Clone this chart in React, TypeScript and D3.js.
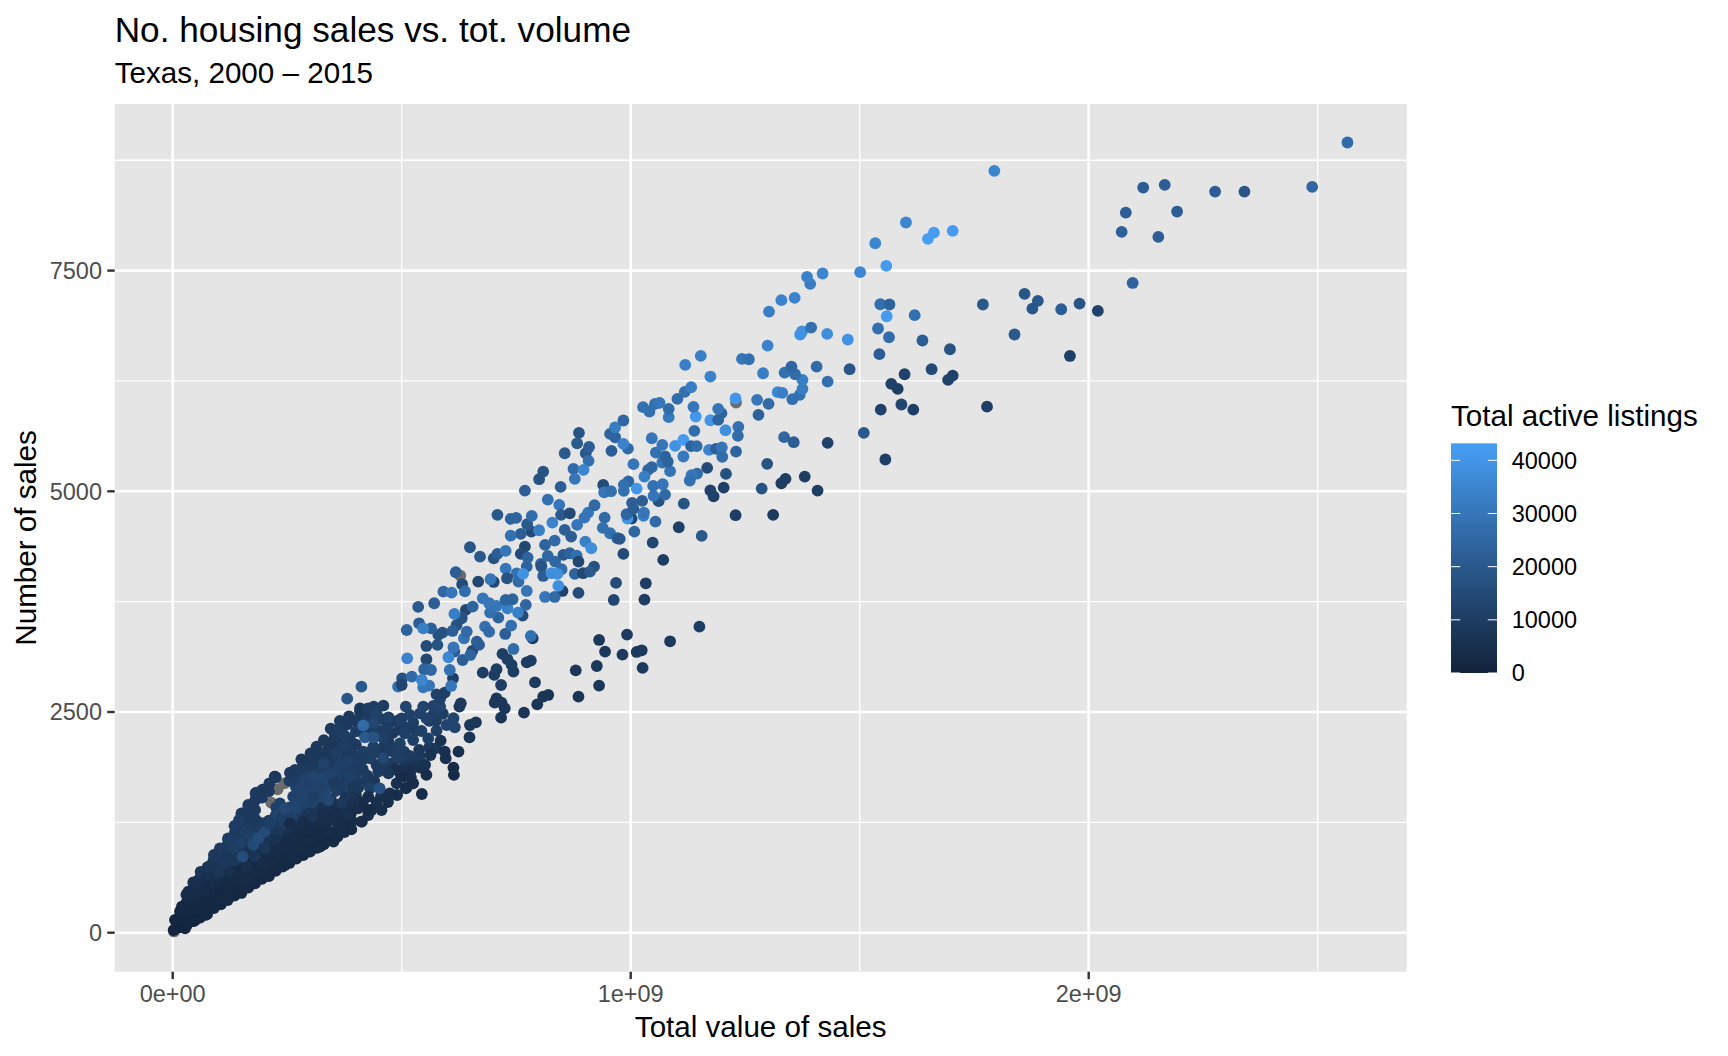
import React from "react";
import * as d3 from "d3";

// [total value of sales in $M, number of sales, total active listings]
type Row = [number, number, number];

// rows with no listings count, they come out grey
const missingListings: number[][] = [
  [3, 14], [215, 1474], [229, 1625], [244, 1692], [352, 1590], [628, 4045], [1230, 6006],
];

// the solid part of the cloud, smaller metro areas
const solidLowerLobe: Row[] = [
  [15, 60, 1000], [14, 150, 1500], [16, 240, 2000], [30, 80, 1000], [31, 170, 1500], [29, 260, 2000], [30, 340, 3000], [31, 430, 4000],
  [45, 130, 1500], [46, 220, 2000], [44, 310, 2500], [45, 400, 3000], [60, 170, 1500], [61, 260, 2000], [59, 350, 2500], [60, 440, 3000],
  [75, 210, 2000], [76, 300, 2000], [74, 390, 2500], [75, 480, 3000], [90, 280, 2000], [91, 370, 2500], [89, 460, 2500], [90, 550, 3000],
  [105, 320, 2000], [106, 410, 2500], [104, 500, 2500], [105, 590, 3000], [120, 370, 2500], [121, 460, 2500], [119, 550, 2500], [120, 640, 3000],
  [135, 420, 2500], [136, 510, 2500], [134, 600, 2500], [135, 690, 3000], [150, 450, 2500], [151, 540, 2500], [149, 630, 2500], [150, 720, 3000],
  [165, 510, 2500], [166, 600, 2500], [164, 690, 3000], [165, 780, 3000], [180, 560, 2500], [181, 650, 2500], [179, 740, 3000], [180, 830, 3000],
  [195, 610, 2500], [196, 700, 2500], [194, 790, 3000], [195, 880, 3000], [210, 640, 2500], [211, 730, 2500], [209, 820, 3000], [210, 910, 3500],
  [225, 700, 2500], [226, 790, 2500], [224, 880, 3000], [225, 970, 3500], [240, 750, 2500], [241, 840, 3000], [239, 930, 3000], [240, 1020, 3500],
  [255, 790, 2500], [256, 880, 3000], [254, 970, 3000], [255, 1060, 3500], [270, 840, 2500], [271, 930, 3000], [269, 1020, 3000], [270, 1110, 3500],
  [285, 880, 2500], [286, 970, 3000], [284, 1060, 3000], [285, 1150, 3500], [300, 920, 2500], [301, 1010, 3000], [299, 1100, 3000], [300, 1190, 3500],
  [315, 960, 2500], [316, 1050, 3000], [314, 1140, 3000], [315, 1230, 3500], [330, 1000, 2500], [331, 1090, 3000], [329, 1180, 3000], [330, 1270, 3500],
  [345, 1050, 3000], [346, 1140, 3000], [360, 1090, 3000], [361, 1180, 3000], [359, 1270, 3500], [375, 1140, 3000], [376, 1230, 3000], [374, 1320, 3500],
  [390, 1170, 3000], [391, 1260, 3000], [389, 1350, 3500], [345, 1330, 4000], [346, 1420, 5000], [360, 1360, 4000], [375, 1410, 5000], [390, 1440, 5000],
];

const solidUpperLobe: Row[] = [
  [30, 430, 4000], [45, 490, 4000], [45, 570, 5000], [60, 530, 4000], [60, 620, 6000], [61, 690, 7000], [75, 570, 4000], [75, 660, 6000],
  [76, 740, 7000], [90, 640, 5000], [91, 730, 7000], [89, 820, 8000], [90, 880, 9000], [105, 680, 5000], [106, 770, 7000], [104, 860, 8000],
  [105, 930, 9000], [120, 730, 5000], [121, 820, 7000], [119, 910, 8000], [120, 1000, 9000], [121, 1060, 9000], [135, 780, 5000], [136, 870, 7000],
  [134, 960, 8000], [135, 1050, 9000], [136, 1140, 9000], [135, 1210, 10000], [150, 810, 5000], [151, 900, 7000], [149, 990, 9000], [150, 1080, 9000],
  [151, 1170, 9000], [149, 1260, 9000], [150, 1350, 9000], [165, 870, 5000], [166, 960, 7000], [164, 1050, 9000], [165, 1140, 9000], [166, 1230, 9000],
  [164, 1320, 9000], [165, 1410, 9000], [180, 920, 5000], [181, 1010, 7000], [179, 1100, 9000], [180, 1190, 9000], [181, 1280, 9000], [180, 1500, 9000],
  [181, 1580, 9000], [195, 970, 5000], [196, 1060, 7000], [194, 1150, 9000], [195, 1240, 9000], [195, 1530, 9000], [196, 1620, 9000], [210, 1000, 5000],
  [211, 1090, 7000], [209, 1180, 8000], [210, 1270, 9000], [210, 1600, 9000], [211, 1690, 9000], [225, 1060, 6000], [226, 1150, 8000], [224, 1240, 9000],
  [225, 1330, 11000], [226, 1420, 11000], [225, 1760, 9000], [240, 1110, 6000], [241, 1200, 8000], [239, 1290, 10000], [240, 1380, 12000], [255, 1150, 6000],
  [256, 1240, 8000], [254, 1330, 10000], [255, 1420, 11000], [255, 1720, 10000], [270, 1200, 5000], [271, 1290, 8000], [269, 1380, 11000], [270, 1470, 12000],
  [271, 1560, 13000], [269, 1650, 12000], [270, 1740, 10000], [271, 1830, 9000], [285, 1240, 5000], [286, 1330, 7000], [284, 1420, 11000], [285, 1510, 13000],
  [286, 1600, 13000], [284, 1690, 11000], [285, 1780, 10000], [285, 1870, 9000], [300, 1280, 5000], [301, 1370, 7000], [299, 1460, 10000], [300, 1550, 12000],
  [301, 1640, 12000], [299, 1730, 11000], [300, 1820, 10000], [300, 1900, 8000], [315, 1320, 5000], [316, 1410, 7000], [314, 1500, 9000], [315, 1590, 13000],
  [316, 1680, 13000], [314, 1770, 12000], [315, 1860, 10000], [315, 1950, 8000], [330, 1360, 5000], [331, 1450, 7000], [329, 1540, 9000], [330, 1670, 13000],
  [331, 1760, 12000], [329, 1850, 10000], [330, 1940, 8000], [330, 2030, 8000], [345, 1510, 7000], [346, 1690, 11000], [344, 1780, 12000], [345, 1870, 10000],
  [345, 1960, 9000], [345, 2050, 8000], [360, 1450, 5000], [361, 1640, 9000], [359, 1730, 11000], [360, 1820, 11000], [361, 1910, 10000], [360, 2000, 9000],
  [360, 2090, 9000], [360, 2180, 9000], [375, 1500, 6000], [376, 1590, 7000], [374, 1680, 9000], [375, 1770, 11000], [376, 1860, 10000], [375, 1950, 9000],
  [375, 2040, 9000], [374, 2130, 9000], [375, 2220, 9000], [390, 1530, 6000], [391, 1620, 7000], [389, 1710, 9000], [390, 1800, 10000], [391, 1890, 9000],
  [390, 1980, 9000], [389, 2070, 9000], [390, 2160, 9000],
];

const shoulder: Row[] = [
  [400, 1560, 5000], [415, 1480, 4000], [405, 1640, 9000], [420, 1720, 9000], [400, 1800, 10000], [415, 1850, 9000], [425, 1780, 9000], [440, 1720, 8000],
  [445, 1900, 9000], [400, 2000, 9000], [415, 1960, 9000], [430, 2040, 9000], [445, 2040, 10000], [460, 2100, 9000], [475, 2060, 9000], [490, 2100, 10000],
  [505, 2050, 10000], [400, 2130, 9000], [385, 2200, 9000], [400, 2280, 10000], [415, 2270, 11000], [430, 2300, 10000], [450, 2290, 10000], [480, 2260, 9000],
  [495, 2300, 9000], [510, 2320, 10000], [525, 2380, 10000], [490, 2400, 10000], [475, 2380, 9000], [455, 2420, 10000], [435, 2450, 9000], [420, 2430, 10000],
  [400, 2400, 9000], [385, 2450, 9000], [365, 2400, 9000], [345, 2310, 9000], [330, 2180, 9000], [345, 2150, 8000], [320, 2000, 8000], [300, 1960, 8000],
  [285, 1900, 9000], [340, 1960, 9000], [360, 1960, 9000], [380, 2010, 9000], [400, 1920, 9000], [465, 1900, 9000], [480, 1920, 9000], [510, 1900, 7000],
  [520, 1840, 5000], [520, 1760, 5000], [540, 1870, 6000], [530, 1950, 7000], [540, 2000, 9000], [560, 2100, 9000], [575, 2090, 8000], [530, 2290, 10000],
  [560, 2400, 10000], [575, 2400, 10000], [590, 2480, 11000], [570, 2480, 11000], [500, 1850, 6000], [455, 1550, 5000], [490, 1560, 4000], [445, 1480, 5000],
  [470, 1480, 4000],
];

const denseBandLower: Row[] = [
  [2, 30, 1000], [27, 50, 1000], [49, 144, 1500], [71, 201, 2000], [100, 371, 2500], [121, 446, 2500],
  [147, 484, 2500], [176, 578, 2500], [201, 673, 2500], [245, 767, 2500], [267, 862, 3000], [296, 918, 3000],
  [322, 975, 3000], [351, 1032, 3000], [413, 1258, 3000], [456, 1390, 4000], [434, 1390, 4000], [427, 1333, 5000],
  [412, 1258, 4000], [387, 1352, 4000], [358, 1352, 4000], [329, 1352, 5000], [300, 1352, 7000], [285, 1258, 4000],
  [256, 1239, 4000], [340, 1258, 4000], [158, 597, 3000], [180, 692, 3000], [201, 786, 3500], [223, 881, 3500],
  [242, 956, 3500], [263, 1032, 3500], [282, 1107, 3000], [303, 1183, 3500], [325, 1258, 4000], [216, 824, 3000],
  [253, 881, 3000], [274, 956, 3000], [296, 1032, 3000], [318, 1107, 3000], [340, 1145, 3500], [362, 1239, 4000],
  [383, 1334, 5000], [405, 1409, 4000], [427, 1390, 3000], [369, 1164, 3500], [38, 257, 2000], [56, 333, 2000],
  [74, 333, 2000], [92, 446, 2500], [114, 559, 3000], [121, 522, 2500], [143, 635, 3000],
];

const denseBandUpper: Row[] = [
  [5, 144, 1500], [20, 295, 2000], [34, 465, 4000], [52, 578, 5000], [78, 748, 7000], [103, 956, 9000],
  [121, 1069, 10000], [145, 1277, 10000], [165, 1447, 9000], [183, 1587, 9000], [223, 1768, 9000], [27, 257, 2500],
  [41, 371, 3000], [56, 446, 3500], [78, 465, 3500], [92, 559, 4000], [100, 673, 7000], [114, 786, 8000],
  [125, 673, 5000], [136, 824, 8000], [132, 956, 10000], [147, 1013, 11000], [158, 1145, 10000], [172, 1277, 9000],
  [180, 1390, 9000], [172, 1088, 11000], [161, 748, 5000], [180, 862, 7000], [201, 956, 7000], [223, 1051, 6000],
  [231, 1164, 8000], [245, 1239, 10000], [263, 1334, 12000], [267, 1447, 13000], [285, 1504, 13000], [303, 1466, 12000],
  [318, 1542, 13000], [333, 1617, 13000], [311, 1693, 12000], [354, 1730, 11000], [376, 1730, 9000], [282, 1353, 9000],
  [303, 1315, 8000], [329, 1390, 6000], [362, 1428, 5000], [391, 1504, 9000], [153, 862, 16000], [176, 994, 15000],
  [187, 1069, 16000], [201, 1145, 15000], [212, 1239, 15000], [231, 1334, 14000], [242, 1390, 15000], [274, 1579, 13000],
  [303, 1617, 13000], [333, 1730, 12000], [223, 1767, 8000], [234, 1465, 11000], [238, 1314, 11000], [212, 1239, 11000],
  [245, 1409, 14000], [271, 1409, 13000], [285, 1465, 12000], [267, 1843, 9000], [256, 1813, 9000], [292, 1749, 12000],
  [307, 1767, 13000], [329, 1749, 13000], [358, 1786, 11000], [387, 1767, 11000], [278, 1616, 12000], [263, 1541, 12000],
  [307, 1541, 10000], [340, 1503, 14000], [369, 1465, 8000], [394, 1484, 6000], [322, 1654, 12000], [351, 1711, 9000],
  [380, 1654, 10000], [409, 1692, 9000], [431, 1635, 11000], [452, 1635, 17000], [427, 1541, 4000], [474, 1579, 4000],
  [509, 1635, 4000], [489, 1692, 5000], [498, 1786, 5000], [485, 1850, 5000], [471, 1805, 8000], [449, 1824, 9000],
  [343, 1805, 12000], [394, 1654, 8000], [358, 1616, 10000], [307, 1654, 12000], [285, 1692, 12000],
];

const midBandLeft: Row[] = [
  [281, 1964, 8000], [301, 2032, 8000], [314, 2107, 8000], [338, 2070, 8000], [303, 1900, 9000], [329, 1918, 12000],
  [365, 1900, 11000], [383, 1937, 11000], [358, 2032, 10000], [376, 2107, 10000], [409, 1900, 10000], [431, 1975, 10000],
  [460, 1975, 14000], [487, 2032, 10000], [492, 1975, 10000], [438, 2107, 10000], [416, 2051, 10000], [471, 2164, 9000],
  [496, 2145, 11000], [354, 2289, 9000], [354, 2228, 9000], [365, 2315, 10000], [374, 2240, 10000], [381, 2360, 9000],
  [409, 2504, 8000], [409, 2542, 8000], [427, 2542, 10000], [439, 2561, 10000], [460, 2572, 10000], [445, 2485, 12000],
  [471, 2440, 11000], [438, 2372, 13000], [467, 2315, 10000], [460, 2202, 11000], [420, 2213, 20000], [439, 2213, 18000],
  [416, 2349, 26000], [500, 2428, 11000], [381, 2651, 19000], [412, 2787, 20000], [492, 2787, 28000], [501, 2882, 18000],
  [500, 2806, 13000], [503, 1768, 4000], [511, 1647, 4000], [525, 1692, 4000], [544, 1571, 4000],
  [554, 1787, 4000], [551, 1900, 6000], [613, 1870, 3000], [614, 1787, 3000], [517, 2002, 9000], [496, 1975, 10000],
  [538, 2070, 8000], [563, 2013, 6000], [594, 2051, 5000], [596, 1975, 5000], [624, 2051, 5000], [585, 2176, 6000],
  [525, 2183, 11000], [558, 2202, 11000], [507, 2259, 11000], [543, 2285, 11000], [576, 2289, 11000], [648, 2213, 7000],
  [649, 2353, 8000], [662, 2383, 8000], [598, 2353, 13000], [616, 2327, 13000], [613, 2429, 13000], [554, 2429, 12000],
  [540, 2485, 12000], [518, 2467, 12000], [509, 2561, 13000], [547, 2561, 13000], [569, 2568, 12000], [584, 2561, 13000],
  [584, 2655, 12000], [576, 2700, 12000], [594, 2719, 11000], [629, 2598, 9000], [626, 2561, 9000], [707, 2655, 8000],
  [703, 2606, 8000], [718, 2606, 8000], [725, 2542, 8000], [717, 2436, 7000], [767, 2493, 7000], [796, 2587, 7000],
  [809, 2674, 7000], [820, 2693, 7000], [886, 2674, 7000], [931, 2799, 8000], [880, 2972, 8000], [926, 3021, 8000],
  [944, 3184, 8000], [931, 3316, 8000], [982, 3150, 9000], [992, 3377, 9000], [1013, 3180, 9000], [1024, 3199, 9000],
  [1026, 2999, 9000], [1086, 3301, 9000], [1150, 3467, 10000], [1030, 3773, 10000], [1033, 3958, 10000], [963, 3769, 14000],
  [968, 3962, 15000], [791, 2836, 9000], [717, 2806, 10000], [677, 2946, 10000], [707, 2984, 10000], [702, 2920, 10000],
  [612, 2882, 11000], [744, 2957, 10000], [740, 3033, 10000], [731, 3097, 11000], [720, 3158, 11000],
  [773, 3063, 10000], [782, 3082, 10000], [786, 3335, 10000], [654, 3191, 14000], [554, 3248, 15000], [554, 3097, 14000],
  [764, 3592, 15000], [640, 3656, 14000], [631, 3562, 18000], [620, 3486, 18000], [615, 3184, 22000], [633, 3089, 22000],
  [578, 3260, 18000], [580, 3373, 18000], [589, 3399, 18000], [611, 3418, 22000], [726, 3384, 22000], [711, 3569, 24000],
  [549, 2984, 24000], [564, 2976, 25000], [522, 2901, 26000], [605, 2976, 28000], [547, 2780, 30000], [560, 2799, 30000],
  [608, 2795, 30000], [544, 2863, 35000], [512, 3108, 34000], [602, 3120, 36000], [613, 3233, 30000], [650, 3146, 24000],
  [664, 3297, 22000], [669, 3260, 22000], [636, 3335, 29000], [642, 3411, 26000], [682, 3467, 28000], [691, 3407, 26000],
  [739, 3478, 28000], [782, 3361, 28000], [744, 3214, 27000], [511, 3429, 24000], [538, 3505, 22000], [564, 3448, 22000],
  [547, 3448, 33000], [536, 3690, 20000], [571, 3732, 22000], [655, 3694, 24000], [615, 3611, 33000], [693, 3626, 28000],
  [691, 3732, 30000], [677, 3788, 30000], [707, 3701, 30000], [731, 3675, 33000], [742, 3777, 24000], [727, 3769, 24000],
  [771, 3713, 25000], [754, 3626, 33000],
];

const midBandUpper: Row[] = [
  [618, 4083, 22000], [632, 3947, 15000], [667, 3977, 14000], [701, 3973, 14000], [694, 4004, 30000], [591, 3864, 25000],
  [609, 3852, 30000], [638, 3868, 27000], [649, 4366, 19000], [671, 4260, 20000], [701, 4241, 18000], [709, 4291, 22000],
  [727, 4325, 30000], [709, 4733, 20000], [738, 4687, 24000], [750, 4699, 24000], [769, 5008, 22000], [800, 5137, 18000],
  [809, 5223, 18000], [769, 4374, 14000], [760, 4291, 15000], [775, 4249, 24000], [727, 4124, 30000], [773, 4147, 24000],
  [751, 4071, 28000], [730, 4015, 18000], [755, 3977, 26000], [773, 3871, 30000], [765, 4064, 39000], [804, 4177, 24000],
  [805, 4147, 18000], [809, 4041, 22000], [819, 4268, 25000], [835, 4204, 25000], [853, 4279, 20000], [867, 4298, 24000],
  [882, 4272, 28000], [886, 4204, 14000], [849, 4117, 27000], [878, 4064, 24000], [896, 4072, 14000], [920, 4147, 18000],
  [911, 4090, 20000], [851, 3871, 12000], [886, 3849, 15000], [813, 3803, 30000], [834, 3803, 26000], [842, 3928, 38000],
  [827, 4072, 38000], [840, 4064, 38000], [834, 4442, 26000], [813, 4393, 24000], [901, 4430, 33000], [914, 4355, 38000],
  [783, 4544, 15000], [760, 4517, 22000], [738, 4498, 28000], [800, 4559, 33000], [829, 4646, 34000], [774, 4627, 20000],
  [784, 4721, 27000], [819, 4906, 28000], [844, 4846, 30000], [847, 5050, 22000], [848, 4733, 20000], [867, 4751, 15000],
  [870, 4487, 22000], [856, 4563, 22000], [883, 4619, 30000], [899, 4702, 30000], [907, 4759, 30000], [921, 4842, 26000],
  [943, 4702, 26000], [939, 4585, 28000], [955, 4525, 28000], [971, 4468, 22000], [940, 5072, 15000], [942, 4989, 30000],
  [957, 5001, 28000], [856, 5431, 20000], [902, 5431, 20000], [908, 5344, 28000], [875, 5254, 26000], [897, 5242, 35000],
  [878, 5140, 30000], [958, 5458, 22000], [976, 4461, 20000], [984, 4291, 15000], [1008, 4544, 25000], [1048, 4419, 14000],
  [1071, 4223, 10000], [1105, 4593, 11000], [1155, 4495, 20000], [1229, 4729, 10000], [1311, 4733, 9000], [1054, 4657, 26000],
  [1002, 4691, 14000], [993, 4691, 40000], [1028, 4722, 33000], [1029, 4759, 30000], [991, 4740, 25000], [1006, 4801, 22000],
  [1003, 4869, 22000], [1025, 4891, 22000], [1116, 4861, 18000], [1061, 4888, 18000], [1050, 4948, 30000], [1075, 4963, 26000],
  [1049, 5061, 28000], [1070, 5080, 30000], [995, 5111, 25000], [985, 5073, 28000], [985, 5005, 28000], [1013, 5031, 40000],
  [887, 5661, 18000], [883, 5544, 20000], [909, 5502, 22000], [955, 5650, 24000], [966, 5612, 24000], [966, 5725, 32000],
];

const upperBand: Row[] = [
  [984, 5802, 25000], [994, 5484, 26000], [984, 5537, 34000], [1006, 5307, 30000], [1046, 5273, 25000], [1038, 5243, 25000],
  [1030, 5167, 33000], [1086, 5228, 29000], [1069, 5326, 30000], [1081, 5337, 24000], [1075, 5394, 24000], [1055, 5439, 28000],
  [1069, 5526, 30000], [1046, 5601, 30000], [1097, 5515, 39000], [1115, 5583, 42000], [1115, 5394, 31000], [1132, 5511, 23000],
  [1144, 5511, 27000], [1139, 5685, 27000], [1171, 5469, 34000], [1186, 5481, 23000], [1199, 5496, 30000], [1200, 5390, 27000],
  [1230, 5450, 24000], [1235, 5730, 28000], [1234, 5628, 27000], [1207, 5692, 38000], [1174, 5805, 40000], [1191, 5809, 24000],
  [1198, 5885, 24000], [1191, 5934, 30000], [1142, 5847, 41000], [1137, 5957, 30000], [1083, 5840, 31000], [1083, 5934, 27000],
  [1041, 5904, 28000], [1027, 5953, 28000], [1053, 5990, 28000], [1063, 6002, 30000], [1102, 6047, 27000], [1118, 6126, 28000],
  [1132, 6179, 32000], [1119, 6432, 33000], [1153, 6534, 33000], [1174, 6300, 34000], [1229, 6051, 40000], [1276, 6036, 30000],
  [1301, 5991, 26000], [1279, 5866, 23000], [1321, 6123, 36000], [1331, 6115, 33000], [1353, 6043, 28000], [1369, 6092, 28000],
  [1375, 6160, 32000], [1375, 6262, 33000], [1359, 6326, 27000], [1336, 6345, 28000], [1351, 6413, 25000], [1406, 6413, 26000],
  [1289, 6337, 33000], [1243, 6500, 30000], [1258, 6496, 28000], [1299, 6651, 34000], [1430, 6243, 28000], [1478, 6383, 19000],
  [1429, 6783, 38000], [1374, 6810, 38000], [1370, 6776, 39000], [1394, 6855, 28000], [1474, 6719, 39000], [1302, 7036, 33000],
  [1329, 7165, 34000], [1358, 7191, 34000], [1392, 7350, 32000], [1385, 7429, 34000], [1419, 7467, 35000], [1501, 7482, 36000],
  [1534, 7810, 35000], [1558, 7554, 42000], [1601, 8045, 35000], [1649, 7860, 43000], [1662, 7931, 42000], [1703, 7950, 42000],
  [1794, 8630, 35000], [1545, 7119, 28000], [1565, 7116, 24000], [1559, 6983, 42000], [1620, 6995, 28000], [1540, 6844, 28000],
  [1564, 6745, 27000], [1637, 6708, 22000], [1543, 6553, 22000], [1697, 6609, 18000],
];

const lowerBranch: Row[] = [
  [1167, 5265, 15000], [1208, 5197, 17000], [1145, 5201, 27000], [1133, 5182, 30000], [1129, 5122, 28000], [1174, 5009, 12000],
  [1181, 4944, 12000], [1203, 5042, 11000], [1286, 5031, 18000], [1298, 5311, 18000], [1338, 5141, 10000], [1329, 5091, 10000],
  [1380, 5167, 10000], [1408, 5008, 10000], [1335, 5613, 25000], [1356, 5556, 22000], [1430, 5549, 12000], [1509, 5662, 20000],
  [1556, 5360, 11000], [1546, 5926, 12000], [1569, 6217, 12000], [1583, 6160, 11000], [1591, 5983, 13000], [1617, 5926, 11000],
  [1598, 6326, 12000], [1657, 6383, 15000], [1703, 6311, 12000], [1693, 6262, 12000], [1778, 5959, 10000], [1769, 7116, 20000],
  [1838, 6776, 20000], [1860, 7236, 19000], [1889, 7157, 20000], [1877, 7070, 19000], [1940, 7062, 22000], [1959, 6533, 11000],
  [1980, 7126, 19000], [2020, 7043, 12000], [2096, 7360, 24000], [2072, 7938, 23000], [2081, 8157, 22000], [2119, 8441, 22000],
  [2152, 7882, 22000], [2166, 8471, 22000], [2193, 8169, 22000], [2276, 8395, 22000], [2340, 8395, 19000], [2488, 8448, 25000],
  [2565, 8951, 26000],
];

const xTicks = [0, 1000, 2000];
const xTickLabels = ["0e+00", "1e+09", "2e+09"];
const xMinor = [500, 1500, 2500];
const yTicks = [0, 2500, 5000, 7500];
const yMinor = [1250, 3750, 6250, 8750];
const legendTicks = [0, 10000, 20000, 30000, 40000];

const x = d3.scaleLinear().domain([0, 2000]).range([172.7, 1088.7]);
const y = d3.scaleLinear().domain([0, 7500]).range([932.7, 270.6]);
const colour = d3
  .scaleLinear<string>()
  .domain([0, 43200])
  .range(["#12233B", "#469FF6"])
  .interpolate(d3.interpolateLab);
const legendY = d3.scaleLinear().domain([0, 43200]).range([673, 443.3]);

const panel = { left: 114.7, right: 1406.7, top: 104, bottom: 971.7 };
const font = "'Liberation Sans', Arial, sans-serif";
const rows: Row[] = [
  ...solidUpperLobe,
  ...solidLowerLobe,
  ...shoulder,
  ...denseBandUpper,
  ...denseBandLower,
  ...midBandLeft,
  ...midBandUpper,
  ...upperBand,
  ...lowerBranch,
];

const App = () => (
  <svg
    width={1728}
    height={1056}
    style={{ position: "absolute", left: 0, top: 0, background: "#fff" }}
    fontFamily={font}
  >
    <defs>
      <linearGradient id="ramp" x1="0" x2="0" y1="1" y2="0">
        {d3.range(0, 1.001, 0.1).map((t) => (
          <stop key={t} offset={t} stopColor={colour(t * 43200)} />
        ))}
      </linearGradient>
    </defs>

    <text x={114.7} y={41.5} fontSize={35.2}>No. housing sales vs. tot. volume</text>
    <text x={114.7} y={82.5} fontSize={29.6}>Texas, 2000 – 2015</text>

    <rect
      x={panel.left}
      y={panel.top}
      width={panel.right - panel.left}
      height={panel.bottom - panel.top}
      fill="#E5E5E5"
    />
    {yMinor.map((v) => (
      <line key={v} x1={panel.left} x2={panel.right} y1={y(v)} y2={y(v)} stroke="#fff" strokeWidth={1.3} />
    ))}
    {xMinor.map((v) => (
      <line key={v} x1={x(v)} x2={x(v)} y1={panel.top} y2={panel.bottom} stroke="#fff" strokeWidth={1.3} />
    ))}
    {yTicks.map((v) => (
      <line key={v} x1={panel.left} x2={panel.right} y1={y(v)} y2={y(v)} stroke="#fff" strokeWidth={2.6} />
    ))}
    {xTicks.map((v) => (
      <line key={v} x1={x(v)} x2={x(v)} y1={panel.top} y2={panel.bottom} stroke="#fff" strokeWidth={2.6} />
    ))}

    {missingListings.map(([v, s], i) => (
      <circle key={i} cx={x(v)} cy={y(s)} r={5.9} fill="#6B6B6B" />
    ))}
    {rows.map(([v, s, l], i) => (
      <circle key={i} cx={x(v)} cy={y(s)} r={5.9} fill={colour(l)} />
    ))}

    {yTicks.map((v) => (
      <g key={v}>
        <line x1={panel.left - 7.4} x2={panel.left} y1={y(v)} y2={y(v)} stroke="#333" strokeWidth={2.4} />
        <text x={102} y={y(v) + 8.3} fontSize={23.5} textAnchor="end" fill="#4D4D4D">{v}</text>
      </g>
    ))}
    {xTicks.map((v, i) => (
      <g key={v}>
        <line x1={x(v)} x2={x(v)} y1={panel.bottom} y2={panel.bottom + 7.4} stroke="#333" strokeWidth={2.4} />
        <text x={x(v)} y={1001.7} fontSize={23.5} textAnchor="middle" fill="#4D4D4D">{xTickLabels[i]}</text>
      </g>
    ))}
    <text x={760.7} y={1037} fontSize={29.6} textAnchor="middle">Total value of sales</text>
    <text transform="translate(36,537.9) rotate(-90)" fontSize={29.6} textAnchor="middle">Number of sales</text>

    <text x={1451} y={426} fontSize={29.6}>Total active listings</text>
    <rect x={1451} y={443.3} width={46} height={229.7} fill="url(#ramp)" />
    {legendTicks.map((v) => (
      <g key={v}>
        <line x1={1451} x2={1460.2} y1={legendY(v)} y2={legendY(v)} stroke="#fff" strokeWidth={1} />
        <line x1={1487.8} x2={1497} y1={legendY(v)} y2={legendY(v)} stroke="#fff" strokeWidth={1} />
        <text x={1511.7} y={legendY(v) + 8.3} fontSize={23.5}>{v}</text>
      </g>
    ))}
  </svg>
);

export default App;
